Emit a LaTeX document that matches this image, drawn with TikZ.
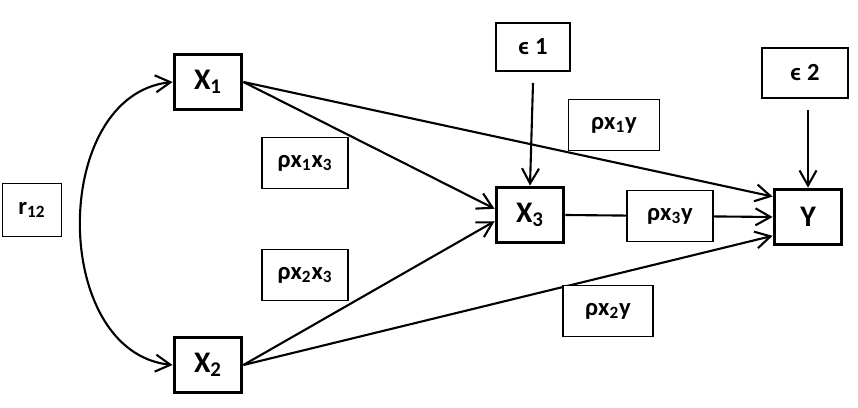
\documentclass[tikz,border=0pt]{standalone}
\usepackage{fontspec}
\setmainfont{Carlito}
\usetikzlibrary{arrows.meta}

\begin{document}
\begin{tikzpicture}[x=0.02cm,y=-0.02cm,
	>={Straight Barb[length=3mm,width=3.4mm]},
	var/.style={draw,line width=2.2pt,minimum width=1.34cm,minimum height=1.1cm,font=\fontsize{17}{20}\selectfont\bfseries},
	coef/.style={draw,fill=white,line width=0.6pt,minimum width=1.72cm,minimum height=1.03cm,font=\fontsize{14}{16}\selectfont\bfseries},
	link/.style={line width=1.2pt}]
					\useasboundingbox (0,0) rectangle (858,408);
					\node[var] (x1) at (208,82) {X\textsubscript{1}};
					\node[var] (x2) at (208,365) {X\textsubscript{2}};
					\node[var] (x3) at (530,215) {X\textsubscript{3}};
					\node[var] (y) at (808,217) {Y};
					\coordinate (e1s) at (533,83);
					\coordinate (e2s) at (808,110);
					\draw [link,<->] (x1.west) .. controls (50,95) and (50,352) .. (x2.west);
					\draw [link,->] (x1.east) -- (x3.170);
					\draw [link,->] (x1.east) -- (y.150);
					\draw [link,->] (x2.east) -- (x3.190);
					\draw [link,->] (x2.east) -- (y.208);
					\draw [link,->] (x3.east) -- (y.west);
					\draw [link,->] (e1s) -- (x3.north);
					\draw [link,->] (e2s) -- (y.north);
					\node[coef,minimum width=1.48cm,minimum height=0.96cm] (e1) at (533,47) {ϵ 1};
					\node[coef,minimum height=1.0cm] (e2) at (805,73) {ϵ 2};
					\node[coef,minimum width=1.18cm,minimum height=1.06cm] (r12) at (32,210) {r\textsubscript{12}};
					\node[coef] (p13) at (305,163) {ρx\textsubscript{1}x\textsubscript{3}};
					\node[coef] (p23) at (305,275) {ρx\textsubscript{2}x\textsubscript{3}};
					\node[coef,minimum width=1.82cm] (p1y) at (614,125) {ρx\textsubscript{1}y};
					\node[coef] (p3y) at (670,216) {ρx\textsubscript{3}y};
					\node[coef,minimum width=1.8cm] (p2y) at (608,311) {ρx\textsubscript{2}y};
				\end{tikzpicture}
\end{document}
